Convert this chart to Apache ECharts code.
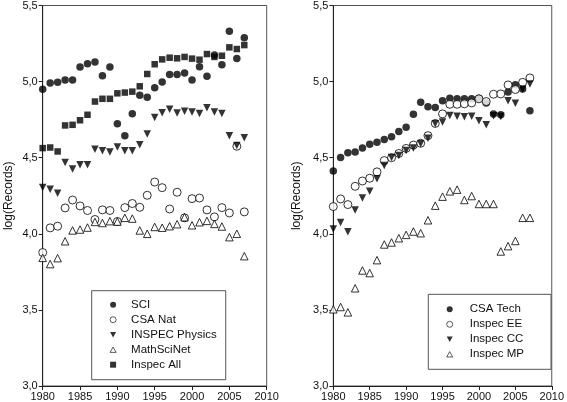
<!DOCTYPE html>
<html><head><meta charset="utf-8">
<script src="https://cdn.jsdelivr.net/npm/echarts@6/dist/echarts.min.js"></script>
<style>html,body{margin:0;padding:0;background:#fff}#c{width:567px;height:402px}</style>
</head><body><div id="c"></div>
<script>
const years = [1980,1981,1982,1983,1984,1985,1986,1987,1988,1989,1990,1991,1992,1993,1994,1995,1996,1997,1998,1999,2000,2001,2002,2003,2004,2005,2006,2007];

// Left panel
const sci = [4.95,4.99,4.995,5.01,5.01,5.096,5.118,5.129,5.039,5.096,4.723,4.644,4.788,4.91,4.897,4.959,4.998,5.046,5.046,5.057,5.011,5.098,5.035,5.175,5.111,5.33,5.151,5.288];
const csaNat = [3.877,4.039,4.05,4.17,4.222,4.183,4.153,4.094,4.157,4.153,4.081,4.172,4.199,4.174,4.253,4.34,4.303,4.163,4.273,4.105,4.231,4.235,4.157,4.111,4.172,4.137,4.575,4.144];
const inspecPhysics = [4.305,4.292,4.266,4.469,4.425,4.454,4.454,4.556,4.545,4.537,4.57,4.545,4.545,4.585,4.655,4.764,4.795,4.819,4.793,4.806,4.80,4.79,4.828,4.80,4.79,4.644,4.58,4.631];
const mathSciNet = [3.842,3.801,3.84,3.951,4.022,4.028,4.041,4.078,4.071,4.083,4.08,4.105,4.1,4.022,4.0,4.045,4.04,4.05,4.063,4.109,4.056,4.076,4.085,4.065,4.048,3.978,4.0,3.853];
const inspecAll = [4.563,4.567,4.541,4.712,4.716,4.746,4.782,4.869,4.887,4.887,4.923,4.928,4.934,4.969,5.05,5.114,5.146,5.157,5.153,5.162,5.151,5.144,5.181,5.162,5.17,5.225,5.214,5.24];

// Right panel
const csaTech = [4.413,4.502,4.533,4.537,4.563,4.589,4.602,4.62,4.638,4.672,4.70,4.786,4.864,4.834,4.83,4.874,4.891,4.887,4.887,4.887,4.891,4.86,4.787,4.783,4.932,4.98,4.952,4.808];
const inspecEE = [4.179,4.229,4.192,4.312,4.347,4.365,4.407,4.481,4.5,4.528,4.561,4.583,4.595,4.645,4.725,4.788,4.851,4.851,4.854,4.86,4.887,4.869,4.917,4.919,4.978,4.948,4.995,5.024];
const inspecCC = [4.032,4.074,4.013,4.157,4.235,4.279,4.361,4.448,4.502,4.515,4.547,4.563,4.592,4.628,4.723,4.735,4.777,4.773,4.769,4.773,4.742,4.716,4.775,4.77,4.874,4.858,4.95,4.985];
const inspecMP = [3.504,3.519,3.484,3.642,3.759,3.742,3.827,3.93,3.943,3.971,3.993,4.015,4.004,4.089,4.185,4.244,4.279,4.29,4.222,4.248,4.196,4.196,4.196,3.884,3.919,3.953,4.105,4.105];

const leftNames = ['SCI','CSA Nat','INSPEC Physics','MathSciNet','Inspec All'];
const rightNames = ['CSA Tech','Inspec EE','Inspec CC','Inspec MP'];
const yTicks = [3.0,3.5,4.0,4.5,5.0,5.5];
const xTicks = [1980,1985,1990,1995,2000,2005,2010];

const FONT = 'Liberation Sans, Arial, sans-serif';
const DOWN = 'path://M0,0 L10,0 L5,9 Z';
const UP = 'path://M5,0 L10,9 L0,9 Z';
const chart = echarts.init(document.getElementById('c'), null, {renderer:'canvas'});

const FILLED = {color:'#000', borderColor:'#000', borderWidth:0};
const OPEN = {color:'#fff', borderColor:'#000', borderWidth:1};

function mk(name, vals, symbol, filled, size, gi) {
  return {
    type: 'scatter', name: name, xAxisIndex: gi, yAxisIndex: gi,
    data: years.map((y, i) => [y, vals[i]]),
    symbol: symbol, symbolSize: size,
    itemStyle: filled ? FILLED : OPEN,
    emphasis: {disabled:true}, animation:false
  };
}

function xAx(gi){
  return {gridIndex:gi, type:'value', min:1980, max:2010, interval:5,
    axisLine:{show:true, lineStyle:{color:'#222', width:1}},
    axisTick:{show:true, length:4, lineStyle:{color:'#222'}},
    axisLabel:{color:'#111', fontSize:11, fontFamily:FONT, margin:5,
      formatter: v => xTicks.includes(v) ? String(v) : ''},
    splitLine:{show:false}};
}
function yAx(gi, gap){
  return {gridIndex:gi, type:'value', min:3.0, max:5.5, interval:0.5,
    name:'log(Records)', nameLocation:'middle', nameGap:gap, nameRotate:90,
    nameTextStyle:{color:'#111', fontSize:12, fontFamily:FONT},
    axisLine:{show:true, lineStyle:{color:'#222', width:1}},
    axisTick:{show:true, length:4, lineStyle:{color:'#222'}},
    axisLabel:{color:'#111', fontSize:11, fontFamily:FONT, margin:5,
      formatter: v => yTicks.some(t => Math.abs(t-v)<1e-6) ? v.toFixed(1).replace('.', ',') : ''},
    splitLine:{show:false}};
}
function lgItem(name, icon, filled){
  return {name:name, icon:icon,
    itemStyle: filled ? {color:'#000', borderColor:'#000', borderWidth:0}
                      : {color:'#fff', borderColor:'#000', borderWidth:0.8}};
}
function lg(items, left, top, padding, textPad){
  return {data:items, orient:'vertical', left:left, top:top, padding:padding,
    borderColor:'#555', borderWidth:1, backgroundColor:'#fff',
    itemWidth:6, itemHeight:6, itemGap:3, selectedMode:false,
    textStyle:{color:'#111', fontSize:11.5, fontFamily:FONT, padding:[0,0,0,textPad]}};
}

const leftIcons = ['circle','circle',DOWN,UP,'rect'];
const leftFilled = [true,false,true,false,true];
const rightIcons = ['circle','circle',DOWN,UP];
const rightFilled = [true,false,true,false];

chart.setOption({
  animation:false,
  backgroundColor:'#fff',
  grid:[
    {left:42.7, top:3.7, width:224, height:382.3, show:true, borderColor:'#555', borderWidth:1, backgroundColor:'transparent'},
    {left:333.3, top:3.7, width:222.4, height:382.3, show:true, borderColor:'#555', borderWidth:1, backgroundColor:'transparent'}
  ],
  xAxis:[xAx(0), xAx(1)],
  yAxis:[yAx(0, 28), yAx(1, 31)],
  legend:[
    lg(leftNames.map((n,i)=>lgItem(n,leftIcons[i],leftFilled[i])), 91.7, 290.7, [8,9,9,18], 10),
    lg(rightNames.map((n,i)=>lgItem(n,rightIcons[i],rightFilled[i])), 428.3, 294.3, [9,27,9,18], 12)
  ],
  series:[
    mk('SCI', sci, 'circle', true, 7.5, 0),
    mk('CSA Nat', csaNat, 'circle', false, 8, 0),
    mk('INSPEC Physics', inspecPhysics, DOWN, true, 7.5, 0),
    mk('MathSciNet', mathSciNet, UP, false, 7.5, 0),
    mk('Inspec All', inspecAll, 'rect', true, 6.5, 0),
    mk('CSA Tech', csaTech, 'circle', true, 7.5, 1),
    mk('Inspec EE', inspecEE, 'circle', false, 8, 1),
    mk('Inspec CC', inspecCC, DOWN, true, 7.5, 1),
    mk('Inspec MP', inspecMP, UP, false, 7.5, 1)
  ]
});
</script></body></html>
